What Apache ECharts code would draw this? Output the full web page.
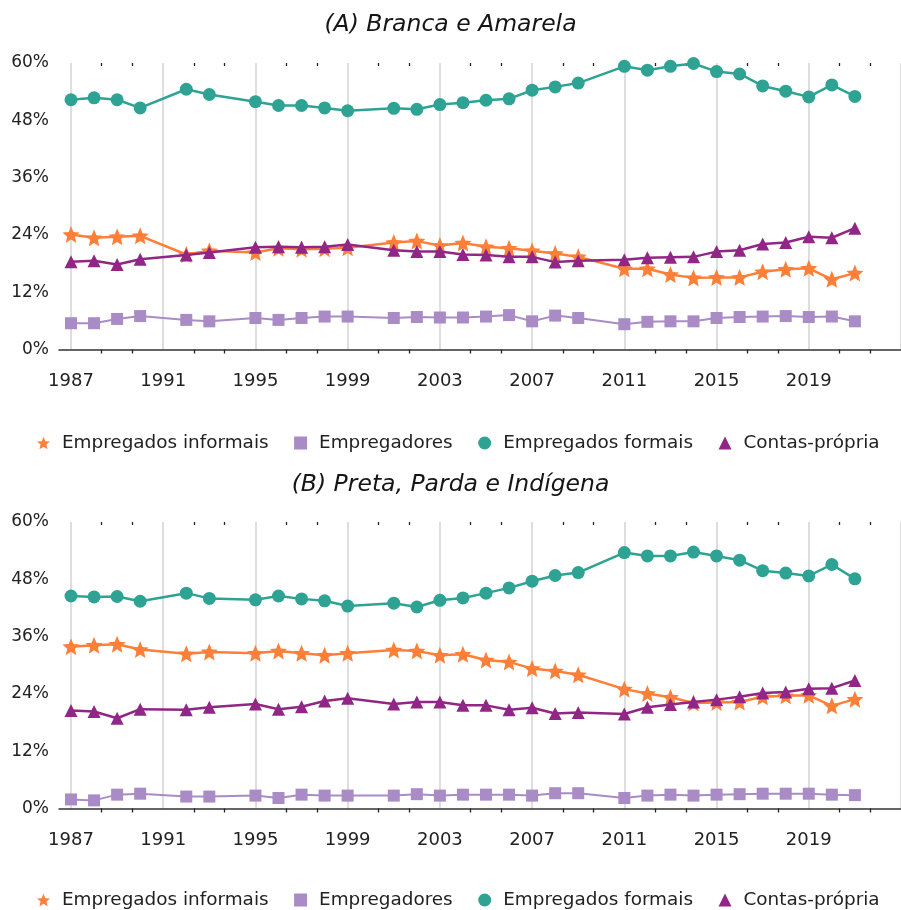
<!DOCTYPE html>
<html>
<head>
<meta charset="utf-8">
<script src="https://cdn.jsdelivr.net/npm/echarts@6/dist/echarts.min.js"></script>
<style>
  html, body { margin: 0; padding: 0; background: #fff; }
  #chart { width: 901px; height: 910px; }
</style>
</head>
<body>
<div id="chart"></div>
<script>
// anos da PNAD/PNADC (sem 1991, 1994, 2000, 2010)
const years = [1987, 1988, 1989, 1990, 1992, 1993, 1995, 1996, 1997, 1998, 1999,
  2001, 2002, 2003, 2004, 2005, 2006, 2007, 2008, 2009,
  2011, 2012, 2013, 2014, 2015, 2016, 2017, 2018, 2019, 2020, 2021]

const seriesNames = ['Empregados informais', 'Empregadores', 'Empregados formais', 'Contas-própria']
const panelTitles = ['(A) Branca e Amarela', '(B) Preta, Parda e Indígena']

// (A) Branca e Amarela
const informaisA = [24.1, 23.4, 23.6, 23.8, 19.9, 20.7, 20.3, 21.2, 21.0, 21.1, 21.3,
  22.4, 22.7, 21.8, 22.3, 21.5, 21.2, 20.7, 20.1, 19.4,
  16.9, 16.9, 15.7, 15.0, 15.1, 15.1, 16.3, 16.8, 17.0, 14.7, 16.0]
const empregadoresA = [5.5, 5.5, 6.4, 7.0, 6.2, 5.9, 6.6, 6.2, 6.6, 6.9, 6.9,
  6.6, 6.8, 6.7, 6.7, 6.9, 7.2, 5.9, 7.1, 6.6,
  5.3, 5.8, 5.9, 5.9, 6.6, 6.8, 6.9, 7.0, 6.8, 6.9, 5.9]
const formaisA = [52.3, 52.7, 52.3, 50.6, 54.5, 53.4, 51.9, 51.1, 51.1, 50.6, 50.0,
  50.5, 50.3, 51.3, 51.7, 52.2, 52.5, 54.3, 55.0, 55.8,
  59.3, 58.5, 59.3, 59.9, 58.2, 57.7, 55.2, 54.1, 52.9, 55.4, 53.0]
const contasA = [18.4, 18.6, 17.8, 18.9, 19.8, 20.3, 21.4, 21.5, 21.4, 21.5, 22.0,
  20.8, 20.5, 20.5, 19.9, 19.8, 19.4, 19.4, 18.3, 18.6,
  18.8, 19.2, 19.3, 19.4, 20.5, 20.8, 22.1, 22.4, 23.6, 23.4, 25.4]

// (B) Preta, Parda e Indígena
const informaisB = [33.9, 34.2, 34.4, 33.3, 32.4, 32.8, 32.5, 33.0, 32.5, 32.1, 32.5,
  33.2, 33.0, 32.1, 32.3, 31.1, 30.7, 29.3, 28.8, 28.0,
  25.0, 24.1, 23.3, 22.1, 22.2, 22.3, 23.4, 23.6, 23.7, 21.5, 22.9]
const empregadoresB = [1.9, 1.7, 2.9, 3.1, 2.5, 2.5, 2.7, 2.2, 2.9, 2.7, 2.7,
  2.7, 3.0, 2.7, 2.9, 2.9, 2.9, 2.7, 3.2, 3.2,
  2.2, 2.7, 2.9, 2.7, 2.9, 3.0, 3.1, 3.1, 3.1, 2.9, 2.8]
const formaisB = [44.5, 44.3, 44.4, 43.4, 45.1, 44.0, 43.7, 44.5, 43.9, 43.5, 42.4,
  43.0, 42.2, 43.6, 44.1, 45.1, 46.2, 47.6, 48.8, 49.4,
  53.6, 52.9, 52.9, 53.7, 52.9, 52.0, 49.8, 49.3, 48.7, 51.1, 48.1]
const contasB = [20.5, 20.3, 18.9, 20.8, 20.7, 21.2, 21.9, 20.8, 21.3, 22.5, 23.1,
  21.9, 22.3, 22.3, 21.6, 21.6, 20.7, 21.1, 19.9, 20.1,
  19.8, 21.2, 21.8, 22.3, 22.8, 23.4, 24.2, 24.4, 25.1, 25.2, 26.8]

const yTicks = [0, 12, 24, 36, 48, 60]

const colors = ['#fe7f38', '#a98bc6', '#2ea394', '#912687']

// estrela de 5 pontas para o símbolo
function starPath () {
  const pts = []
  for (let i = 0; i < 10; i++) {
    const ang = (-90 + i * 36) * Math.PI / 180
    const r = i % 2 ? 0.45 : 1
    pts.push((Math.cos(ang) * r).toFixed(3) + ',' + (Math.sin(ang) * r).toFixed(3))
  }
  return 'path://M' + pts.join('L') + 'Z'
}
const STAR = starPath()
const symbols = [STAR, 'rect', 'circle', 'triangle']
const symbolSizes = [17, 12, 13, 13]
const lineWidths = [2.5, 2, 2.5, 2.5]

const font = 'DejaVu Sans'
const panels = [
  { top: 63, values: [informaisA, empregadoresA, formaisA, contasA], titleTop: 13, legendTop: 429 },
  { top: 522, values: [informaisB, empregadoresB, formaisB, contasB], titleTop: 473, legendTop: 886 }
]
const plotH = 286.5

const chart = echarts.init(document.getElementById('chart'))
const option = {
  animation: false,
  title: [], legend: [], grid: [], xAxis: [], yAxis: [], series: []
}

panels.forEach((p, pi) => {
  option.title.push({
    text: panelTitles[pi],
    left: 'center',
    top: p.titleTop,
    padding: 0,
    textStyle: { fontFamily: 'DejaVu Sans', fontStyle: 'italic', fontWeight: 'normal', fontSize: 23.5, color: '#151515' }
  })
  option.legend.push({
    data: seriesNames.map((n, i) => ({ name: n, icon: symbols[i] })),
    left: 32,
    top: p.legendTop,
    itemWidth: 13,
    itemHeight: 13,
    itemGap: 25.5,
    textStyle: { fontFamily: font, fontSize: 18.4, color: '#222', padding: [0, 0, 0, 7] }
  })
  // grade principal
  option.grid.push({ left: 71, right: -3.4, top: p.top, height: plotH })
  // grade só para a linha do eixo (começa um pouco antes de 1987)
  option.grid.push({ left: 59, right: -3.4, top: p.top, height: plotH })
  const g = pi * 2
  const xBase = {
    type: 'value', gridIndex: g, min: 1987, max: 2023, interval: 4
  }
  option.xAxis.push({
    ...xBase,
    axisLine: { show: false },
    axisTick: { show: false },
    minorTick: { show: true, splitNumber: 3, length: 4, lineStyle: { color: '#222', width: 1.3 } },
    splitLine: { show: true, lineStyle: { color: '#d3d3d3', width: 1.5 } },
    axisLabel: {
      margin: 23, fontFamily: font, fontSize: 18, color: '#222', showMaxLabel: false,
      formatter: v => String(v)
    }
  })
  option.xAxis.push({
    ...xBase,
    axisLine: { show: false },
    axisTick: { show: false, inside: true },
    minorTick: { show: true, splitNumber: 3, length: 3, lineStyle: { color: '#222', width: 1.3 } },
    splitLine: { show: false },
    axisLabel: { show: false }
  })
  option.xAxis.push({
    type: 'value', gridIndex: g + 1, min: 0, max: 1,
    axisLine: { show: true, lineStyle: { color: '#333', width: 1.5 } },
    axisTick: { show: false },
    splitLine: { show: false },
    axisLabel: { show: false }
  })
  option.yAxis.push({
    type: 'value', gridIndex: g, min: yTicks[0], max: yTicks[yTicks.length - 1], interval: 12,
    axisLine: { show: false },
    axisTick: { show: false },
    splitLine: { show: false },
    axisLabel: { margin: 22, fontFamily: font, fontSize: 17, color: '#222', formatter: '{value}%' }
  })
  option.yAxis.push({ type: 'value', gridIndex: g + 1, show: false, min: 0, max: 1 })

  p.values.forEach((vals, si) => {
    option.series.push({
      type: 'line',
      name: seriesNames[si],
      xAxisIndex: pi * 3,
      yAxisIndex: g,
      data: years.map((y, i) => [y, vals[i]]),
      symbol: symbols[si],
      symbolSize: symbolSizes[si],
      showAllSymbol: true,
      itemStyle: { color: colors[si] },
      lineStyle: { color: colors[si], width: lineWidths[si] },
      z: 3 + si
    })
  })
})

chart.setOption(option)
</script>
</body>
</html>
